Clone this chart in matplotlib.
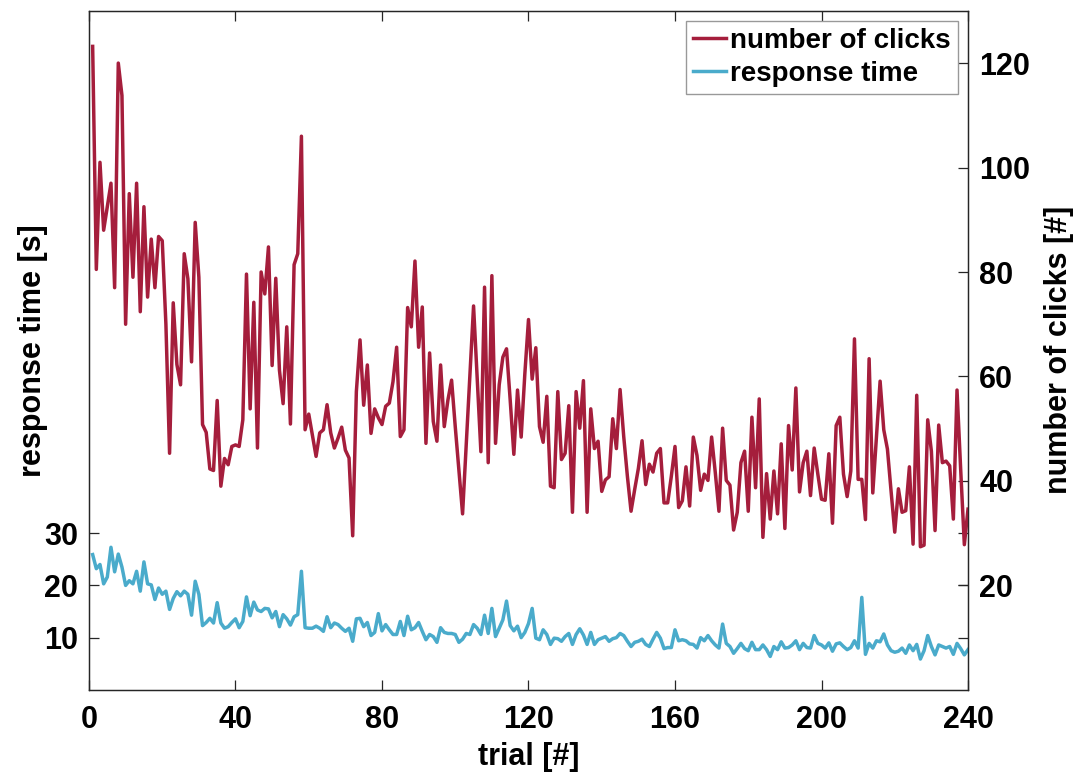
import numpy as np
import matplotlib
matplotlib.use("Agg")
import matplotlib.pyplot as plt

plt.rcParams['font.family'] = ['Liberation Sans', 'DejaVu Sans']
plt.rcParams['font.weight'] = 'bold'

# number of clicks per trial (right axis)
clicks = [
    123.2, 80.5, 101.0, 88.0, 92.5, 97.0, 77.0, 120.0, 113.8, 70.0,
    95.0, 79.0, 97.0, 72.4, 92.5, 75.2, 86.3, 77.0, 86.8, 86.0,
    70.0, 45.3, 74.1, 62.3, 58.4, 83.5, 78.7, 62.8, 89.5, 79.0,
    50.8, 49.3, 42.3, 42.0, 55.4, 39.0, 44.3, 43.1, 46.6, 46.9,
    46.6, 51.7, 79.6, 53.8, 74.2, 46.3, 80.0, 75.8, 84.8, 62.1,
    78.8, 61.2, 54.8, 69.5, 50.9, 81.4, 83.5, 106.0, 49.8, 52.8,
    48.8, 44.7, 49.2, 49.8, 54.6, 49.2, 46.3, 48.2, 50.3, 45.9,
    44.4, 29.5, 57.1, 67.0, 54.5, 62.2, 49.1, 53.8, 52.1, 50.8,
    54.3, 54.9, 59.0, 65.6, 48.5, 49.8, 73.2, 69.5, 82.1, 65.6,
    73.3, 47.2, 64.5, 51.4, 47.6, 62.2, 50.4, 55.5, 59.3, 50.4,
    42.1, 33.7, 47.0, 60.3, 73.5, 59.6, 45.6, 77.1, 43.5, 79.3,
    47.2, 58.4, 63.7, 65.3, 55.5, 45.1, 57.4, 48.4, 60.5, 70.9,
    59.5, 65.5, 50.4, 47.4, 56.2, 39.0, 38.7, 57.1, 44.1, 45.3,
    54.4, 34.0, 57.1, 50.1, 59.2, 34.0, 53.8, 46.2, 47.6, 38.0,
    40.2, 40.8, 51.9, 46.2, 57.5, 48.5, 40.9, 34.2, 38.4, 42.4,
    47.7, 39.3, 43.2, 41.7, 45.3, 46.2, 35.8, 35.8, 40.9, 46.6,
    34.9, 36.2, 42.7, 35.2, 48.4, 44.9, 38.2, 41.3, 40.1, 48.4,
    41.6, 34.2, 50.1, 40.1, 39.2, 30.6, 34.0, 43.5, 45.7, 34.2,
    52.2, 38.7, 55.7, 29.2, 41.4, 32.7, 41.9, 33.7, 47.1, 30.9,
    50.6, 42.1, 57.8, 37.9, 43.5, 45.7, 37.2, 46.3, 41.3, 36.5,
    36.3, 45.2, 31.9, 50.6, 52.2, 41.3, 37.0, 41.9, 67.2, 40.3,
    40.3, 32.6, 63.4, 37.7, 48.5, 59.1, 49.8, 46.1, 38.0, 30.2,
    38.5, 34.0, 34.3, 42.7, 27.9, 56.4, 27.4, 27.7, 51.7, 45.7,
    30.5, 50.7, 43.5, 43.8, 42.9, 32.7, 57.4, 42.2, 27.8, 34.6,
]

# response time per trial in seconds (left axis)
response_time = [
    25.9, 23.2, 24.0, 20.3, 21.6, 27.3, 22.6, 26.0, 23.5, 20.0,
    20.9, 20.3, 22.7, 18.9, 24.5, 20.3, 20.1, 17.3, 19.5, 18.3,
    18.9, 15.4, 17.5, 18.8, 18.0, 18.9, 18.3, 14.3, 20.8, 18.3,
    12.3, 12.9, 13.7, 12.8, 16.7, 12.8, 11.8, 12.1, 12.9, 13.6,
    11.9, 13.1, 17.8, 14.2, 16.8, 15.3, 15.0, 15.6, 15.5, 13.8,
    15.0, 12.1, 14.4, 13.6, 12.4, 14.0, 14.4, 22.7, 11.9, 11.8,
    11.8, 12.2, 11.8, 11.2, 14.0, 11.9, 12.8, 12.5, 11.8, 11.2,
    11.8, 9.3, 13.6, 13.7, 12.1, 12.9, 10.4, 11.0, 14.6, 11.3,
    12.5, 11.5, 10.6, 10.6, 13.1, 10.4, 14.1, 11.5, 11.9, 12.9,
    11.2, 9.6, 10.6, 10.2, 9.1, 11.9, 11.0, 10.8, 10.8, 10.6,
    9.1, 9.7, 10.8, 10.6, 12.5, 11.8, 10.6, 14.3, 10.8, 15.6,
    10.2, 11.8, 13.4, 17.0, 12.3, 11.3, 12.2, 10.0, 11.0, 12.7,
    15.6, 9.9, 9.6, 11.5, 10.6, 8.7, 9.9, 9.8, 9.3, 10.2,
    10.8, 8.7, 10.6, 11.7, 10.5, 8.7, 11.0, 8.7, 9.6, 9.9,
    10.2, 9.3, 9.8, 10.0, 10.8, 10.4, 9.3, 8.3, 9.1, 9.3,
    9.7, 8.7, 8.3, 9.7, 11.0, 9.9, 7.9, 8.1, 8.1, 11.5,
    9.4, 9.6, 9.4, 8.8, 8.7, 8.0, 10.0, 9.4, 10.4, 9.4,
    8.6, 8.0, 12.6, 8.9, 8.3, 7.0, 7.9, 8.9, 7.9, 7.5,
    9.1, 7.7, 7.7, 8.6, 7.7, 6.4, 8.3, 7.7, 9.2, 8.0,
    8.1, 8.6, 9.4, 7.7, 8.9, 8.1, 8.0, 10.4, 8.9, 8.6,
    8.0, 9.0, 7.4, 8.8, 9.0, 8.3, 7.7, 8.1, 9.4, 8.0,
    17.7, 6.8, 8.9, 8.0, 9.4, 9.2, 10.7, 8.6, 7.5, 7.2,
    7.4, 8.0, 7.0, 8.6, 7.5, 8.7, 5.9, 7.5, 10.4, 8.3,
    6.7, 8.6, 8.3, 8.0, 8.3, 6.8, 8.9, 7.9, 6.7, 7.7,
]

trial = np.arange(1, len(clicks) + 1)

x_ticks = [0, 40, 80, 120, 160, 200, 240]
left_ticks = [10, 20, 30]
right_ticks = [20, 40, 60, 80, 100, 120]

red = '#a51e3c'
blue = '#4aabcb'
axis_col = '#262626'

fig = plt.figure(figsize=(10.8, 7.76), dpi=100)
ax = fig.add_axes([0.0824, 0.111, 0.8139, 0.875])
ax2 = ax.twinx()

l_rt, = ax.plot(trial, response_time, color=blue, lw=2.5, label='response time')
l_cl, = ax2.plot(trial, clicks, color=red, lw=2.5, label='number of clicks')

for a in (ax, ax2):
    a.set_xlim(0, 240)
    a.set_ylim(0, 130)
    for s in a.spines.values():
        s.set_color(axis_col)
        s.set_linewidth(0.9)

ax.set_xticks(x_ticks)
ax.set_yticks(left_ticks)
ax2.set_yticks(right_ticks)

ax.tick_params(axis='both', direction='in', length=7, width=0.9, color=axis_col,
               labelsize=22, pad=8, top=True, right=True, labelright=False)
ax.tick_params(axis='x', pad=11)
ax2.tick_params(axis='y', direction='in', length=7, width=0.9, color=axis_col,
                labelsize=22, pad=8)
for lab in ax.get_xticklabels() + ax.get_yticklabels() + ax2.get_yticklabels():
    lab.set_fontweight('bold')

ax.set_xlabel('trial [#]', fontsize=22, fontweight='bold', labelpad=5)
ax.set_ylabel('response time [s]', fontsize=22, fontweight='bold')
ax.yaxis.set_label_coords(-0.047, 0.5)
ax2.set_ylabel('number of clicks [#]', fontsize=22, fontweight='bold', rotation=90)
ax2.yaxis.set_label_coords(1.087, 0.5)

leg = ax2.legend(handles=[l_cl, l_rt], loc='upper right',
                 bbox_to_anchor=(0.9886, 0.985), borderaxespad=0,
                 fancybox=False, framealpha=1, edgecolor='#999999',
                 prop={'size': 20, 'weight': 'bold'},
                 handlelength=1.2, handletextpad=0.15, borderpad=0.25,
                 labelspacing=0.25)
leg.get_frame().set_linewidth(1.0)

fig.savefig('out.png', dpi=100)
